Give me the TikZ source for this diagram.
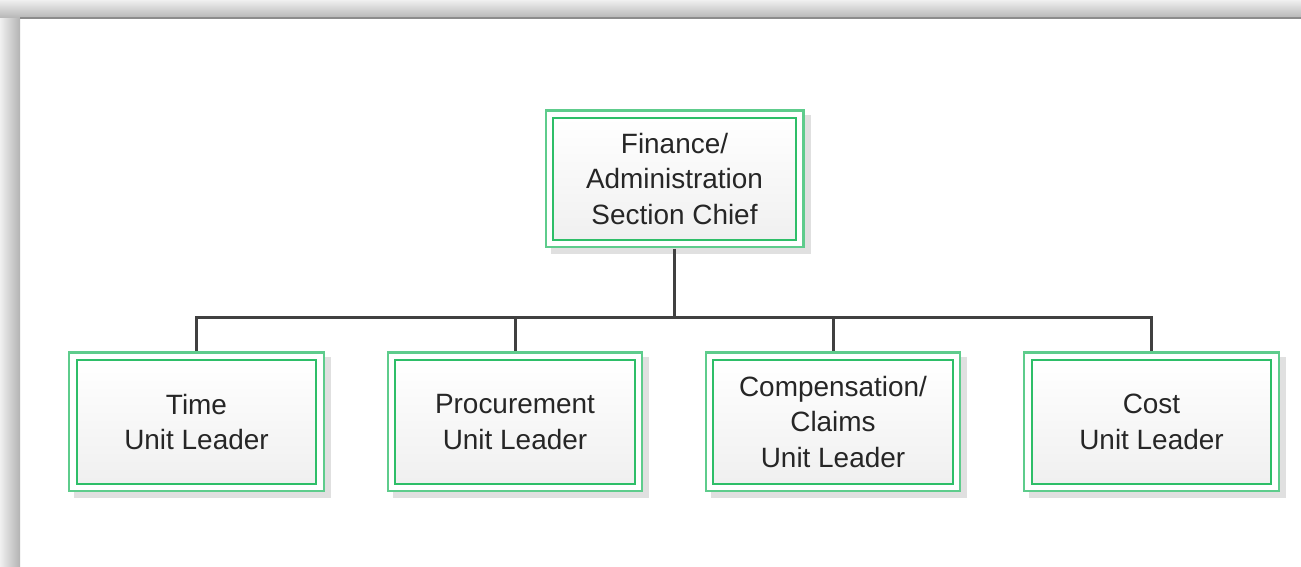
\documentclass[tikz,border=0pt]{standalone}
\usepackage{fontspec}
\setmainfont{Liberation Sans}
\usepackage{tikz}
\usetikzlibrary{positioning,backgrounds}
\usepackage{xcolor}
\definecolor{frameout}{HTML}{5ECC8C}
\definecolor{framein}{HTML}{2EBE68}
\definecolor{linkgray}{HTML}{404040}
\definecolor{textgray}{HTML}{262626}

\tikzset{
  unitbox/.style={rectangle, inner sep=0pt, align=center, text=textgray,
    font=\fontsize{15.9pt}{20.4pt}\selectfont,
    minimum width=239.5*0.02cm, minimum height=124*0.02cm,
    preaction={fill=black!12, draw=black!12, line width=17*0.02cm,
      transform canvas={shift={(6*0.02cm,-6*0.02cm)}}},
    preaction={draw=frameout, line width=17*0.02cm},
    preaction={draw=white, line width=12.6*0.02cm},
    top color=white, bottom color=black!6, draw=framein, line width=1.8*0.02cm},
  chiefbox/.style={unitbox, minimum width=243*0.02cm, minimum height=122*0.02cm},
  link/.style={draw=linkgray, line width=3*0.02cm}
}

\begin{document}
\begin{tikzpicture}[x=0.02cm,y=0.02cm]
  \useasboundingbox (0,0) rectangle (1301,567);
  \begin{scope}[on background layer]
    \fill[white] (0,0) rectangle (1301,567);
    % grey window edge, top and left
    \shade[top color=black!6, bottom color=black!30] (0,548) rectangle (1301,567);
    \shade[left color=black!6, right color=black!30] (0,0) rectangle (20,548);
    \draw[black!45, line width=2*0.02cm] (20,549) -- (1301,549);
  \end{scope}
  % section chief
  \node[chiefbox] (chief) at (674.5,388) {Finance/\\Administration\\Section Chief};
  % unit leaders
  \node[unitbox] (time) at (196.5,145) {Time\\Unit Leader};
  \node[unitbox] (proc) at (515,145) {Procurement\\Unit Leader};
  \node[unitbox] (comp) at (833,145) {Compensation/\\Claims\\Unit Leader};
  \node[unitbox] (cost) at (1151.5,145) {Cost\\Unit Leader};
  % connectors, from outer frame to outer frame
  \coordinate (bus) at (674.5,249);
  \draw[link] ([yshift=-8*0.02cm]chief.south) -- (bus);
  \foreach \u in {time,proc,comp,cost}
    \draw[link] (bus) -| ([yshift=8*0.02cm]\u.north);
\end{tikzpicture}
\end{document}
